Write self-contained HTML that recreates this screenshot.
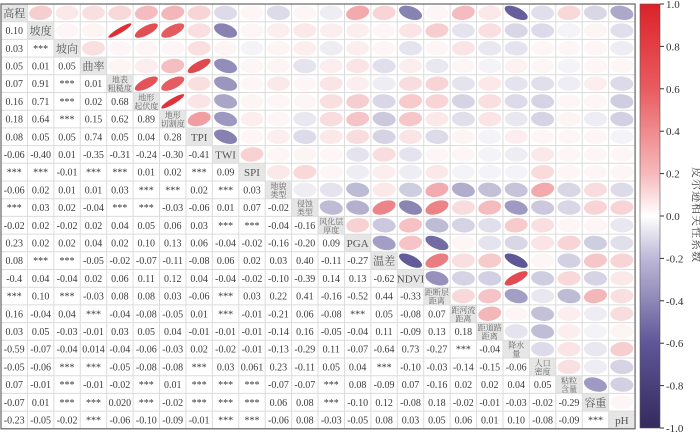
<!DOCTYPE html>
<html><head><meta charset="utf-8"><style>
html,body{margin:0;padding:0;background:#fff;}
svg text{font-family:"Liberation Serif","Noto Serif CJK SC",serif;}
</style></head><body>
<svg id="s" width="700" height="432" xmlns="http://www.w3.org/2000/svg">
<defs><linearGradient id="cb" x1="0" y1="0" x2="0" y2="1">
<stop offset="0" stop-color="#dc2229"/><stop offset="0.2" stop-color="#e85c60"/><stop offset="0.4" stop-color="#f6b9bb"/>
<stop offset="0.5" stop-color="#ffffff"/><stop offset="0.6" stop-color="#bdb8d8"/><stop offset="0.8" stop-color="#5e5697"/><stop offset="1" stop-color="#352a5e"/>
</linearGradient></defs>
</svg>
<script>
var L=["高程","坡度","坡向","曲率","地表|粗糙度","地形|起伏度","地形|切割度","TPI","TWI","SPI","地貌|类型","侵蚀|类型","风化层|厚度","PGA","温差","NDVI","距断层|距离","距河流|距离","距道路|距离","降水|量","人口|密度","粘粒|含量","容重","pH"];
var R=[[],["0.10"],["0.03","***"],["0.05","0.01","0.05"],["0.07","0.91","***","0.01"],["0.16","0.71","***","0.02","0.68"],["0.18","0.64","***","0.15","0.62","0.89"],["0.08","0.05","0.05","0.74","0.05","0.04","0.28"],["-0.06","-0.40","0.01","-0.35","-0.31","-0.24","-0.30","-0.41"],["***","***","-0.01","***","***","0.01","0.02","***","0.09"],["-0.06","0.02","0.01","0.01","0.03","***","***","0.02","***","0.03"],["***","0.03","0.02","-0.04","***","***","-0.03","-0.06","0.01","0.07","-0.02"],["-0.02","0.02","-0.02","0.02","0.04","0.05","0.06","0.03","***","***","-0.04","-0.16"],["0.23","0.02","0.02","0.04","0.02","0.10","0.13","0.06","-0.04","-0.02","-0.16","-0.20","0.09"],["0.08","***","***","-0.05","-0.02","-0.07","-0.11","-0.08","0.06","0.02","0.03","0.40","-0.11","-0.27"],["-0.4","0.04","-0.04","0.02","0.06","0.11","0.12","0.04","-0.04","-0.02","-0.10","-0.39","0.14","0.13","-0.62"],["***","0.10","***","-0.03","0.08","0.08","0.03","-0.06","***","0.03","0.22","0.41","-0.16","-0.52","0.44","-0.33"],["0.16","-0.04","0.04","***","-0.04","-0.08","-0.05","0.01","***","-0.01","-0.21","0.06","-0.08","***","0.05","-0.08","0.07"],["0.03","0.05","-0.03","-0.01","0.03","0.05","0.04","-0.01","-0.01","-0.01","-0.14","0.16","-0.05","-0.04","0.11","-0.09","0.13","0.18"],["-0.59","-0.07","-0.04","0.014","-0.04","-0.06","-0.03","0.02","-0.02","-0.01","-0.13","-0.29","0.11","-0.07","-0.64","0.73","-0.27","***","-0.04"],["-0.05","-0.06","***","***","-0.05","-0.08","-0.08","***","0.03","0.061","0.23","-0.11","0.05","0.04","***","-0.10","-0.03","-0.14","-0.15","-0.06"],["0.07","-0.01","***","-0.01","-0.02","***","0.01","***","***","***","-0.07","-0.07","***","0.08","-0.09","0.07","-0.16","0.02","0.02","0.04","0.05"],["-0.07","0.01","***","***","0.020","***","-0.02","***","***","***","0.06","0.08","***","-0.10","0.12","-0.08","0.18","-0.02","-0.01","-0.03","-0.02","-0.29"],["-0.23","-0.05","-0.02","***","-0.06","-0.10","-0.09","-0.01","***","***","-0.06","0.08","-0.03","-0.05","0.08","0.03","0.05","0.06","0.01","0.10","-0.08","-0.09","***"]];
var s=document.getElementById('s'),h='';
var X0=1,Y0=4,W=26.42,H=17.7,N=24;
function col(r,a){var t=Math.pow(Math.abs(r),0.65);if(a!==undefined)t=a;
 var e=r>=0?[220,34,41]:[53,42,94];
 if(r<0&&t<0.75){e=[94,86,151];t=t/0.75;}else if(r<0){var k=(t-0.75)/0.25;e=[Math.round(94+(53-94)*k),Math.round(86+(42-86)*k),Math.round(151+(94-151)*k)];t=1;}
 return 'rgb('+e.map(function(v){return Math.round(255+(v-255)*t)}).join(',')+')';}
for(var i=0;i<N;i++){var x=X0+i*W,y=Y0+i*H;h+='<rect x="'+x+'" y="'+y+'" width="'+W+'" height="'+H+'" fill="#e6e6e6"/>';}
for(var k=0;k<=N;k++){h+='<line x1="'+(X0+k*W)+'" y1="'+Y0+'" x2="'+(X0+k*W)+'" y2="'+(Y0+N*H)+'" stroke="#dcdcdc" stroke-width="1"/>';
 h+='<line x1="'+X0+'" y1="'+(Y0+k*H)+'" x2="'+(X0+N*W)+'" y2="'+(Y0+k*H)+'" stroke="#dcdcdc" stroke-width="1"/>';}
for(var i=0;i<N;i++)for(var j=0;j<N;j++){
 var x=X0+j*W,y=Y0+i*H,cx=x+W/2,cy=y+H/2;
 if(i==j){var p=L[i].split('|');
  if(p.length==1)h+='<text x="'+cx+'" y="'+(cy+4)+'" font-size="11" fill="#555" text-anchor="middle">'+p[0]+'</text>';
  else h+='<text x="'+cx+'" y="'+(cy-1)+'" font-size="8" fill="#666" text-anchor="middle">'+p[0]+'</text><text x="'+cx+'" y="'+(cy+7.5)+'" font-size="8" fill="#666" text-anchor="middle">'+p[1]+'</text>';
 } else if(i>j){h+='<text x="'+cx+'" y="'+(cy+3.5)+'" font-size="10" fill="#3a3a3a" text-anchor="middle">'+R[i][j]+'</text>';}
 else{var v=R[j][i],r,a;if(v=='***'){r=0;a=0.04;}else{r=parseFloat(v);a=undefined;}
  var d=Math.acos(Math.max(-0.97,Math.min(0.97,r))),pts=[];
  for(var t=0;t<36;t++){var th=t/36*2*Math.PI;pts.push((cx+Math.cos(th+d/2)*11.5).toFixed(2)+','+(cy-Math.cos(th-d/2)*7.2).toFixed(2));}
  h+='<polygon points="'+pts.join(' ')+'" fill="'+col(r,a)+'"/>';}
}
h+='<rect x="'+X0+'" y="'+Y0+'" width="'+(N*W)+'" height="'+(N*H)+'" fill="none" stroke="#666" stroke-width="1.2"/>';
h+='<rect x="640" y="4" width="20" height="424" fill="url(#cb)" stroke="#555" stroke-width="0.6"/>';
for(var k=0;k<=10;k++){var v=1-k*0.2,yy=4+k*42.4;
 h+='<line x1="660" y1="'+yy+'" x2="664" y2="'+yy+'" stroke="#333"/>';
 h+='<text x="666" y="'+(yy+4)+'" font-size="11" fill="#333">'+(Math.abs(v)<1e-9?'0.0':v.toFixed(1))+'</text>';}
h+='<text transform="translate(693,215) rotate(90)" font-size="11" fill="#444" text-anchor="middle" letter-spacing="1">皮尔逊相关性系数</text>';
s.insertAdjacentHTML('beforeend',h);
</script>
</body></html>
